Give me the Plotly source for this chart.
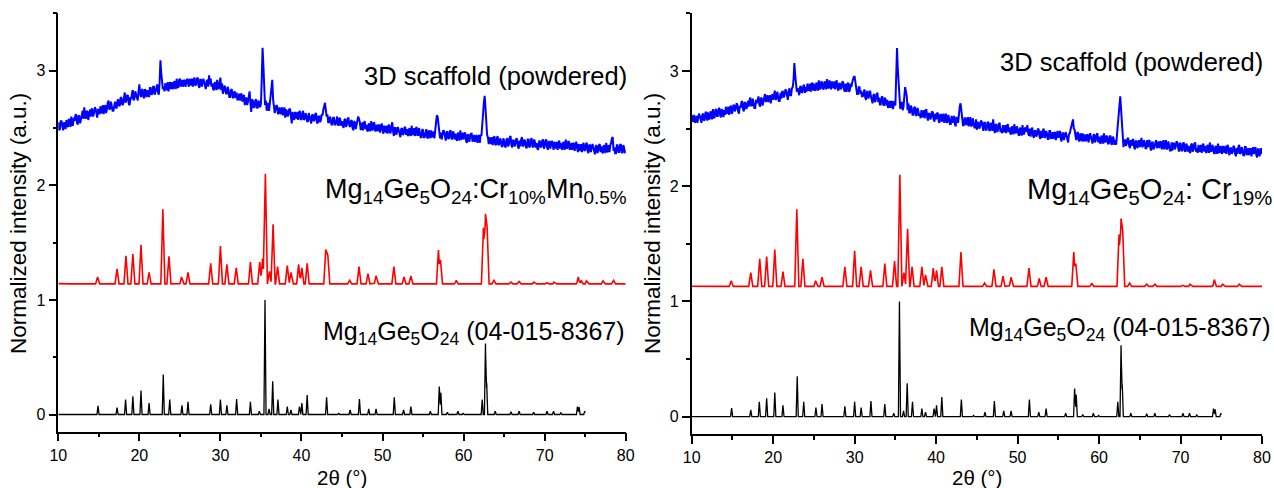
import numpy as np
import plotly.graph_objects as go

# ---------------------------------------------------------------------------
# Data
# ---------------------------------------------------------------------------
# 2-theta sampling of the powdered scaffold scans (0.1 deg steps, 10..80)
scan_2theta = np.round(np.arange(10.0, 80.001, 0.1), 1)

# powdered 3D scaffold, left panel (one row per degree: x.0 .. x.9)
scaffold_a = [
    2.55, 2.48, 2.49, 2.56, 2.56, 2.50, 2.48, 2.55, 2.53, 2.49,
    2.57, 2.52, 2.51, 2.58, 2.56, 2.51, 2.60, 2.53, 2.52, 2.59,
    2.56, 2.61, 2.62, 2.55, 2.53, 2.61, 2.60, 2.54, 2.57, 2.62,
    2.65, 2.58, 2.68, 2.62, 2.58, 2.65, 2.64, 2.57, 2.61, 2.66,
    2.60, 2.67, 2.66, 2.60, 2.63, 2.68, 2.67, 2.61, 2.59, 2.66,
    2.66, 2.62, 2.69, 2.64, 2.63, 2.70, 2.62, 2.68, 2.70, 2.63,
    2.66, 2.72, 2.74, 2.66, 2.67, 2.73, 2.70, 2.65, 2.65, 2.72,
    2.73, 2.68, 2.67, 2.74, 2.75, 2.69, 2.70, 2.77, 2.76, 2.70,
    2.71, 2.76, 2.81, 2.72, 2.74, 2.79, 2.78, 2.71, 2.70, 2.77,
    2.75, 2.81, 2.83, 2.74, 2.76, 2.82, 2.79, 2.75, 2.74, 2.82,
    2.88, 2.80, 2.77, 2.83, 2.84, 2.77, 2.76, 2.84, 2.81, 2.77,
    2.83, 2.79, 2.77, 2.85, 2.85, 2.79, 2.80, 2.86, 2.86, 2.79,
    2.82, 2.87, 2.88, 2.81, 2.79, 2.90, 3.09, 2.98, 2.92, 2.84,
    2.86, 2.82, 2.89, 2.85, 2.83, 2.90, 2.82, 2.88, 2.90, 2.84,
    2.90, 2.85, 2.84, 2.91, 2.89, 2.84, 2.93, 2.86, 2.85, 2.92,
    2.93, 2.86, 2.88, 2.92, 2.86, 2.91, 2.92, 2.86, 2.89, 2.93,
    2.90, 2.86, 2.93, 2.88, 2.87, 2.93, 2.86, 2.92, 2.94, 2.87,
    2.88, 2.93, 2.94, 2.87, 2.85, 2.92, 2.92, 2.86, 2.89, 2.93,
    2.90, 2.85, 2.84, 2.91, 2.92, 2.86, 2.96, 2.88, 2.93, 2.86,
    2.89, 2.84, 2.83, 2.90, 2.88, 2.83, 2.92, 2.85, 2.84, 2.90,
    2.94, 2.83, 2.89, 2.80, 2.82, 2.87, 2.85, 2.80, 2.80, 2.86,
    2.83, 2.77, 2.77, 2.83, 2.84, 2.77, 2.76, 2.82, 2.81, 2.76,
    2.81, 2.74, 2.76, 2.80, 2.74, 2.79, 2.80, 2.73, 2.77, 2.79,
    2.70, 2.76, 2.76, 2.70, 2.73, 2.77, 2.82, 2.72, 2.64, 2.75,
    2.74, 2.68, 2.68, 2.74, 2.75, 2.68, 2.67, 2.74, 2.72, 2.68,
    2.71, 2.93, 3.20, 3.05, 2.90, 2.70, 2.74, 2.66, 2.66, 2.72,
    2.65, 2.72, 2.80, 2.88, 2.92, 2.75, 2.69, 2.63, 2.66, 2.70,
    2.69, 2.62, 2.64, 2.68, 2.62, 2.67, 2.68, 2.61, 2.65, 2.68,
    2.59, 2.66, 2.65, 2.60, 2.62, 2.67, 2.66, 2.60, 2.54, 2.64,
    2.61, 2.57, 2.64, 2.59, 2.58, 2.64, 2.57, 2.63, 2.65, 2.58,
    2.57, 2.63, 2.65, 2.57, 2.58, 2.63, 2.61, 2.56, 2.56, 2.63,
    2.60, 2.55, 2.54, 2.61, 2.62, 2.56, 2.57, 2.62, 2.63, 2.55,
    2.54, 2.60, 2.60, 2.55, 2.57, 2.62, 2.61, 2.66, 2.70, 2.72,
    2.66, 2.60, 2.62, 2.55, 2.55, 2.60, 2.58, 2.53, 2.53, 2.59,
    2.59, 2.53, 2.53, 2.59, 2.60, 2.53, 2.52, 2.59, 2.57, 2.52,
    2.56, 2.52, 2.50, 2.57, 2.58, 2.51, 2.53, 2.58, 2.59, 2.52,
    2.51, 2.56, 2.57, 2.50, 2.48, 2.56, 2.55, 2.49, 2.52, 2.56,
    2.60, 2.58, 2.55, 2.49, 2.49, 2.55, 2.48, 2.54, 2.56, 2.49,
    2.53, 2.48, 2.47, 2.54, 2.52, 2.47, 2.56, 2.49, 2.48, 2.55,
    2.54, 2.47, 2.49, 2.53, 2.47, 2.52, 2.53, 2.46, 2.50, 2.54,
    2.49, 2.45, 2.52, 2.47, 2.46, 2.52, 2.45, 2.51, 2.53, 2.46,
    2.46, 2.52, 2.55, 2.47, 2.43, 2.50, 2.50, 2.44, 2.47, 2.51,
    2.48, 2.43, 2.42, 2.49, 2.50, 2.44, 2.45, 2.50, 2.51, 2.44,
    2.49, 2.44, 2.43, 2.50, 2.48, 2.43, 2.52, 2.45, 2.44, 2.50,
    2.43, 2.49, 2.51, 2.44, 2.44, 2.50, 2.47, 2.42, 2.42, 2.49,
    2.48, 2.42, 2.42, 2.48, 2.49, 2.42, 2.41, 2.48, 2.46, 2.41,
    2.48, 2.42, 2.43, 2.47, 2.41, 2.48, 2.55, 2.61, 2.60, 2.50,
    2.47, 2.41, 2.46, 2.40, 2.43, 2.48, 2.47, 2.41, 2.39, 2.46,
    2.47, 2.41, 2.41, 2.47, 2.48, 2.41, 2.40, 2.47, 2.45, 2.40,
    2.45, 2.40, 2.39, 2.46, 2.44, 2.39, 2.48, 2.41, 2.40, 2.46,
    2.40, 2.45, 2.46, 2.39, 2.37, 2.44, 2.44, 2.38, 2.41, 2.45,
    2.45, 2.38, 2.40, 2.44, 2.38, 2.43, 2.44, 2.37, 2.41, 2.44,
    2.37, 2.44, 2.43, 2.50, 2.62, 2.72, 2.78, 2.68, 2.55, 2.44,
    2.42, 2.36, 2.42, 2.37, 2.36, 2.42, 2.35, 2.41, 2.43, 2.36,
    2.35, 2.41, 2.43, 2.35, 2.36, 2.41, 2.39, 2.34, 2.34, 2.41,
    2.39, 2.34, 2.33, 2.40, 2.41, 2.34, 2.36, 2.42, 2.43, 2.35,
    2.33, 2.39, 2.39, 2.34, 2.36, 2.41, 2.40, 2.34, 2.32, 2.39,
    2.34, 2.40, 2.42, 2.34, 2.35, 2.40, 2.38, 2.33, 2.33, 2.40,
    2.40, 2.33, 2.34, 2.40, 2.41, 2.34, 2.33, 2.40, 2.38, 2.33,
    2.37, 2.32, 2.31, 2.38, 2.39, 2.33, 2.34, 2.39, 2.40, 2.32,
    2.34, 2.39, 2.40, 2.33, 2.31, 2.38, 2.38, 2.32, 2.35, 2.39,
    2.35, 2.31, 2.38, 2.33, 2.32, 2.38, 2.31, 2.37, 2.39, 2.32,
    2.37, 2.32, 2.31, 2.38, 2.36, 2.31, 2.40, 2.33, 2.32, 2.38,
    2.38, 2.31, 2.33, 2.37, 2.31, 2.36, 2.37, 2.30, 2.34, 2.38,
    2.33, 2.29, 2.36, 2.31, 2.30, 2.36, 2.29, 2.35, 2.37, 2.30,
    2.31, 2.36, 2.37, 2.30, 2.28, 2.35, 2.35, 2.29, 2.32, 2.36,
    2.33, 2.28, 2.27, 2.34, 2.35, 2.28, 2.30, 2.35, 2.36, 2.29,
    2.34, 2.29, 2.28, 2.35, 2.33, 2.28, 2.37, 2.30, 2.29, 2.35,
    2.29, 2.35, 2.37, 2.41, 2.42, 2.30, 2.33, 2.28, 2.28, 2.35,
    2.35, 2.29, 2.29, 2.35, 2.36, 2.29, 2.28, 2.35, 2.33, 2.28,
    2.31,
]

# powdered 3D scaffold, right panel
scaffold_b = [
    2.62, 2.56, 2.57, 2.62, 2.55, 2.60, 2.61, 2.55, 2.58, 2.63,
    2.61, 2.57, 2.55, 2.62, 2.63, 2.57, 2.58, 2.64, 2.64, 2.57,
    2.64, 2.59, 2.58, 2.65, 2.63, 2.58, 2.67, 2.60, 2.59, 2.66,
    2.67, 2.61, 2.61, 2.67, 2.68, 2.61, 2.60, 2.67, 2.65, 2.60,
    2.66, 2.62, 2.69, 2.64, 2.63, 2.69, 2.62, 2.68, 2.70, 2.63,
    2.64, 2.70, 2.70, 2.65, 2.67, 2.72, 2.71, 2.65, 2.63, 2.70,
    2.68, 2.73, 2.74, 2.67, 2.65, 2.73, 2.72, 2.67, 2.69, 2.74,
    2.69, 2.75, 2.77, 2.70, 2.70, 2.76, 2.73, 2.68, 2.68, 2.75,
    2.72, 2.77, 2.78, 2.71, 2.69, 2.77, 2.76, 2.70, 2.73, 2.78,
    2.80, 2.73, 2.75, 2.79, 2.73, 2.78, 2.79, 2.72, 2.76, 2.80,
    2.75, 2.81, 2.83, 2.75, 2.76, 2.82, 2.79, 2.74, 2.74, 2.81,
    2.76, 2.82, 2.82, 2.77, 2.79, 2.84, 2.83, 2.77, 2.75, 2.82,
    2.85, 2.79, 2.79, 2.85, 2.86, 2.92, 3.07, 2.97, 2.90, 2.82,
    2.85, 2.81, 2.79, 2.86, 2.87, 2.81, 2.82, 2.87, 2.88, 2.81,
    2.86, 2.82, 2.89, 2.84, 2.83, 2.89, 2.82, 2.88, 2.90, 2.83,
    2.89, 2.84, 2.83, 2.90, 2.88, 2.83, 2.92, 2.85, 2.84, 2.91,
    2.90, 2.85, 2.84, 2.91, 2.89, 2.84, 2.93, 2.86, 2.85, 2.92,
    2.88, 2.84, 2.91, 2.86, 2.85, 2.91, 2.84, 2.90, 2.92, 2.85,
    2.83, 2.89, 2.89, 2.84, 2.86, 2.91, 2.90, 2.84, 2.82, 2.89,
    2.82, 2.88, 2.90, 2.82, 2.83, 2.89, 2.86, 2.90, 2.93, 2.95,
    2.95, 2.88, 2.82, 2.80, 2.80, 2.86, 2.86, 2.80, 2.83, 2.78,
    2.78, 2.83, 2.84, 2.77, 2.75, 2.82, 2.82, 2.76, 2.79, 2.83,
    2.78, 2.73, 2.72, 2.79, 2.80, 2.73, 2.75, 2.80, 2.81, 2.73,
    2.77, 2.71, 2.71, 2.77, 2.78, 2.71, 2.70, 2.77, 2.75, 2.70,
    2.75, 2.68, 2.70, 2.74, 2.68, 2.73, 2.74, 2.67, 2.71, 2.74,
    2.70, 2.95, 3.20, 3.02, 2.88, 2.72, 2.67, 2.72, 2.73, 2.66,
    2.69, 2.78, 2.86, 2.82, 2.78, 2.66, 2.72, 2.64, 2.64, 2.70,
    2.68, 2.62, 2.62, 2.68, 2.69, 2.62, 2.61, 2.68, 2.66, 2.61,
    2.63, 2.59, 2.66, 2.61, 2.60, 2.66, 2.59, 2.65, 2.67, 2.60,
    2.57, 2.63, 2.63, 2.58, 2.60, 2.65, 2.64, 2.58, 2.56, 2.63,
    2.58, 2.63, 2.64, 2.57, 2.55, 2.62, 2.62, 2.56, 2.59, 2.63,
    2.55, 2.61, 2.63, 2.55, 2.56, 2.62, 2.59, 2.54, 2.54, 2.61,
    2.55, 2.60, 2.61, 2.54, 2.52, 2.60, 2.59, 2.55, 2.64, 2.69,
    2.72, 2.64, 2.58, 2.53, 2.53, 2.59, 2.59, 2.53, 2.56, 2.60,
    2.52, 2.58, 2.60, 2.52, 2.53, 2.59, 2.56, 2.51, 2.51, 2.58,
    2.49, 2.55, 2.55, 2.50, 2.52, 2.57, 2.56, 2.50, 2.48, 2.55,
    2.55, 2.49, 2.49, 2.55, 2.56, 2.49, 2.48, 2.55, 2.53, 2.48,
    2.58, 2.52, 2.46, 2.53, 2.54, 2.47, 2.49, 2.54, 2.55, 2.47,
    2.50, 2.46, 2.53, 2.48, 2.47, 2.53, 2.46, 2.52, 2.54, 2.47,
    2.51, 2.46, 2.45, 2.52, 2.50, 2.45, 2.54, 2.47, 2.46, 2.52,
    2.50, 2.45, 2.44, 2.51, 2.49, 2.44, 2.53, 2.46, 2.45, 2.51,
    2.47, 2.50, 2.53, 2.46, 2.44, 2.50, 2.43, 2.49, 2.51, 2.44,
    2.42, 2.48, 2.48, 2.43, 2.45, 2.50, 2.49, 2.43, 2.41, 2.48,
    2.42, 2.48, 2.50, 2.42, 2.43, 2.48, 2.46, 2.41, 2.41, 2.48,
    2.48, 2.41, 2.43, 2.47, 2.41, 2.46, 2.47, 2.40, 2.44, 2.48,
    2.42, 2.47, 2.48, 2.41, 2.39, 2.46, 2.46, 2.40, 2.43, 2.47,
    2.44, 2.40, 2.38, 2.45, 2.46, 2.49, 2.52, 2.56, 2.58, 2.50,
    2.49, 2.44, 2.40, 2.46, 2.47, 2.40, 2.39, 2.46, 2.44, 2.39,
    2.46, 2.39, 2.41, 2.45, 2.39, 2.44, 2.45, 2.38, 2.42, 2.46,
    2.43, 2.38, 2.37, 2.44, 2.45, 2.38, 2.40, 2.45, 2.46, 2.38,
    2.43, 2.38, 2.37, 2.44, 2.42, 2.37, 2.46, 2.39, 2.38, 2.44,
    2.43, 2.37, 2.37, 2.43, 2.44, 2.37, 2.36, 2.43, 2.41, 2.36,
    2.40, 2.36, 2.43, 2.50, 2.60, 2.70, 2.78, 2.67, 2.56, 2.45,
    2.34, 2.40, 2.40, 2.35, 2.37, 2.42, 2.41, 2.35, 2.33, 2.40,
    2.35, 2.40, 2.41, 2.34, 2.32, 2.39, 2.39, 2.33, 2.36, 2.40,
    2.34, 2.40, 2.42, 2.34, 2.35, 2.40, 2.38, 2.33, 2.33, 2.40,
    2.34, 2.39, 2.40, 2.33, 2.31, 2.38, 2.38, 2.32, 2.35, 2.39,
    2.40, 2.33, 2.35, 2.39, 2.33, 2.38, 2.39, 2.32, 2.36, 2.40,
    2.32, 2.38, 2.40, 2.32, 2.33, 2.39, 2.36, 2.31, 2.31, 2.38,
    2.31, 2.37, 2.37, 2.32, 2.34, 2.39, 2.38, 2.32, 2.30, 2.37,
    2.37, 2.31, 2.31, 2.37, 2.38, 2.31, 2.30, 2.37, 2.35, 2.30,
    2.35, 2.30, 2.29, 2.36, 2.37, 2.30, 2.32, 2.37, 2.38, 2.30,
    2.33, 2.29, 2.36, 2.31, 2.30, 2.36, 2.29, 2.35, 2.37, 2.30,
    2.35, 2.30, 2.29, 2.36, 2.34, 2.29, 2.38, 2.31, 2.30, 2.36,
    2.34, 2.29, 2.28, 2.35, 2.33, 2.28, 2.37, 2.30, 2.29, 2.35,
    2.32, 2.28, 2.35, 2.30, 2.29, 2.35, 2.28, 2.34, 2.36, 2.29,
    2.27, 2.33, 2.33, 2.28, 2.30, 2.35, 2.34, 2.28, 2.26, 2.33,
    2.28, 2.34, 2.36, 2.28, 2.29, 2.34, 2.32, 2.27, 2.27, 2.34,
    2.34, 2.27, 2.29, 2.33, 2.27, 2.32, 2.33, 2.26, 2.30, 2.34,
    2.28, 2.33, 2.34, 2.27, 2.25, 2.32, 2.32, 2.26, 2.29, 2.33,
    2.28,
]

# reference card 04-015-8367: line positions (deg) and relative intensities
ref_pos = [12.15, 14.9, 17.25, 18.3, 19.2, 20.2, 21.2, 22.95, 23.75, 25.25,
           26.0, 28.8, 30.0, 30.8, 32.0, 33.7, 34.8, 35.5, 36.0, 36.45,
           37.1, 38.25, 38.7, 39.75, 40.05, 40.7, 43.1, 44.6, 46.0, 47.15,
           48.3, 49.2, 51.45, 52.6, 53.5, 55.9, 57.0, 57.2, 58.0, 59.3,
           59.95, 62.3, 62.7, 62.85, 63.9, 65.85, 66.85, 68.65, 70.3, 71.1,
           72.0, 74.05, 74.25, 74.95]
ref_int = [0.005, 0.075, 0.06, 0.13, 0.16, 0.21, 0.10, 0.35, 0.13, 0.08,
           0.11, 0.09, 0.13, 0.08, 0.135, 0.11, 0.03, 1.00, 0.05, 0.29,
           0.13, 0.07, 0.04, 0.07, 0.10, 0.17, 0.15, 0.01, 0.04, 0.135,
           0.05, 0.05, 0.15, 0.04, 0.07, 0.03, 0.245, 0.19, 0.02, 0.03,
           0.01, 0.13, 0.62, 0.28, 0.03, 0.025, 0.03, 0.02, 0.03, 0.03,
           0.015, 0.07, 0.065, 0.03]
ref_span = [10.0, 75.0]

# baseline of the doped samples (0.5 deg steps, 10..80)
base_2theta = np.round(np.arange(10.0, 80.001, 0.5), 1)
crmn_base = [
    1.142, 1.136, 1.140, 1.133, 1.139, 1.135, 1.141, 1.134, 1.138, 1.132,
    1.137, 1.131, 1.138, 1.130, 1.136, 1.129, 1.135, 1.131, 1.134, 1.128,
    1.133, 1.127, 1.134, 1.126, 1.132, 1.125, 1.131, 1.124, 1.130, 1.123,
    1.129, 1.122, 1.128, 1.121, 1.127, 1.120, 1.126, 1.119, 1.125, 1.118,
    1.124, 1.118, 1.125, 1.119, 1.126, 1.120, 1.127, 1.121, 1.128, 1.122,
    1.135, 1.140, 1.138, 1.130, 1.129, 1.123, 1.130, 1.124, 1.131, 1.125,
    1.131, 1.126, 1.132, 1.125, 1.133, 1.126, 1.132, 1.127, 1.131, 1.126,
    1.132, 1.127, 1.131, 1.125, 1.132, 1.126, 1.131, 1.125, 1.130, 1.124,
    1.131, 1.125, 1.130, 1.126, 1.131, 1.124, 1.130, 1.125, 1.129, 1.123,
    1.130, 1.124, 1.129, 1.125, 1.131, 1.124, 1.129, 1.123, 1.128, 1.124,
    1.129, 1.123, 1.128, 1.122, 1.129, 1.132, 1.130, 1.124, 1.128, 1.122,
    1.127, 1.121, 1.126, 1.122, 1.127, 1.120, 1.125, 1.121, 1.126, 1.119,
    1.125, 1.119, 1.124, 1.120, 1.125, 1.118, 1.123, 1.119, 1.124, 1.118,
    1.123, 1.117, 1.122, 1.118, 1.121, 1.116, 1.120, 1.115, 1.119, 1.112,
    1.113,
]
cr_base = [
    1.132, 1.126, 1.131, 1.124, 1.130, 1.125, 1.131, 1.124, 1.129, 1.123,
    1.128, 1.122, 1.129, 1.121, 1.127, 1.120, 1.126, 1.122, 1.125, 1.119,
    1.124, 1.118, 1.125, 1.117, 1.123, 1.116, 1.122, 1.115, 1.121, 1.114,
    1.120, 1.113, 1.119, 1.112, 1.118, 1.111, 1.117, 1.110, 1.116, 1.109,
    1.115, 1.109, 1.116, 1.110, 1.117, 1.111, 1.118, 1.112, 1.119, 1.113,
    1.126, 1.131, 1.129, 1.121, 1.120, 1.114, 1.121, 1.115, 1.122, 1.116,
    1.122, 1.117, 1.123, 1.116, 1.124, 1.117, 1.123, 1.118, 1.122, 1.117,
    1.123, 1.118, 1.122, 1.116, 1.123, 1.117, 1.122, 1.116, 1.121, 1.115,
    1.122, 1.116, 1.121, 1.117, 1.122, 1.115, 1.121, 1.116, 1.120, 1.114,
    1.121, 1.115, 1.120, 1.116, 1.122, 1.115, 1.120, 1.114, 1.119, 1.115,
    1.120, 1.114, 1.119, 1.113, 1.120, 1.123, 1.121, 1.115, 1.119, 1.113,
    1.118, 1.112, 1.117, 1.113, 1.118, 1.111, 1.116, 1.112, 1.117, 1.110,
    1.116, 1.110, 1.115, 1.111, 1.116, 1.109, 1.114, 1.110, 1.115, 1.109,
    1.114, 1.108, 1.113, 1.109, 1.112, 1.107, 1.111, 1.106, 1.110, 1.103,
    1.104,
]

# Mg14Ge5O24:Cr10%Mn0.5% reflections: position (deg), peak top (a.u.)
crmn_pos = [14.85, 17.25, 18.35, 19.2, 20.2, 21.2, 22.9, 23.65, 25.2, 26.0,
            28.8, 30.0, 30.8, 31.95, 33.7, 34.85, 35.2, 35.55, 36.05, 36.5,
            37.05, 38.25, 38.7, 39.65, 40.05, 40.7, 43.0, 43.25, 45.95, 47.1,
            48.2, 49.2, 51.4, 52.65, 53.5, 56.9, 57.15, 59.1, 62.45, 62.7,
            62.9, 63.75, 65.85, 66.85, 68.65, 70.3, 71.15, 74.15, 74.5, 75.15,
            77.2, 78.5]
crmn_top = [1.20, 1.27, 1.385, 1.40, 1.48, 1.24, 1.79, 1.38, 1.20, 1.24,
            1.32, 1.47, 1.31, 1.28, 1.33, 1.33, 1.36, 2.10, 1.25, 1.66,
            1.29, 1.30, 1.24, 1.31, 1.28, 1.32, 1.44, 1.39, 1.17, 1.29,
            1.23, 1.21, 1.29, 1.20, 1.21, 1.435, 1.35, 1.17, 1.63, 1.75,
            1.64, 1.17, 1.155, 1.16, 1.155, 1.15, 1.155, 1.20, 1.17, 1.165,
            1.165, 1.17]

# Mg14Ge5O24:Cr19% reflections
cr_pos = [14.85, 17.25, 18.35, 19.2, 20.2, 21.2, 22.9, 23.65, 25.2, 26.0,
          28.8, 30.0, 30.8, 31.95, 33.7, 34.9, 35.55, 36.05, 36.5, 37.05,
          38.25, 38.7, 39.65, 40.05, 40.7, 43.05, 45.95, 47.1, 48.2, 49.2,
          51.4, 52.65, 53.5, 56.9, 57.15, 59.1, 62.45, 62.7, 62.9, 63.75,
          65.85, 66.85, 70.3, 71.15, 74.15, 75.15, 77.2]
cr_top = [1.18, 1.25, 1.37, 1.39, 1.45, 1.26, 1.80, 1.37, 1.18, 1.21,
          1.30, 1.44, 1.30, 1.27, 1.33, 1.35, 2.10, 1.25, 1.63, 1.30,
          1.30, 1.23, 1.29, 1.27, 1.30, 1.43, 1.16, 1.28, 1.22, 1.21,
          1.29, 1.20, 1.21, 1.43, 1.33, 1.16, 1.58, 1.72, 1.62, 1.16,
          1.15, 1.15, 1.14, 1.15, 1.19, 1.15, 1.15]

for scan in (scaffold_a, scaffold_b):
    if len(scan) != len(scan_2theta):
        raise ValueError("scan length %d != %d" % (len(scan), len(scan_2theta)))


# ---------------------------------------------------------------------------
# Helpers
# ---------------------------------------------------------------------------
def stick_pattern(base_x, base_y, pos, top, half):
    """Polyline of narrow triangular reflections standing on a baseline."""
    base_x = np.asarray(base_x, float)
    base_y = np.asarray(base_y, float)
    pos = np.asarray(pos, float)
    top = np.asarray(top, float)
    xs = np.concatenate([base_x, pos - half, pos, pos + half])
    xs = np.unique(xs[(xs >= base_x[0]) & (xs <= base_x[-1])])
    ys = np.interp(xs, base_x, base_y)
    for p, t in zip(pos, top):
        b = np.interp(p, base_x, base_y)
        ys = np.maximum(ys, b + (t - b) * np.clip(1 - np.abs(xs - p) / half, 0, None))
    return xs, ys


FONT = "Liberation Sans"
W, H = 1274, 488

fig = go.Figure()

panels = [
    dict(xa="x", ya="y", blue=scaffold_a, red_base=crmn_base,
         red_pos=crmn_pos, red_top=crmn_top),
    dict(xa="x2", ya="y2", blue=scaffold_b, red_base=cr_base,
         red_pos=cr_pos, red_top=cr_top),
]

for p in panels:
    rx, ry = stick_pattern(ref_span, [0.0, 0.0], ref_pos, ref_int, 0.13)
    fig.add_trace(go.Scatter(x=rx, y=ry, mode="lines", xaxis=p["xa"], yaxis=p["ya"],
                             line=dict(color="#000000", width=1.3), showlegend=False,
                             hoverinfo="skip"))
    sx, sy = stick_pattern(base_2theta, p["red_base"], p["red_pos"], p["red_top"], 0.25)
    fig.add_trace(go.Scatter(x=sx, y=sy, mode="lines", xaxis=p["xa"], yaxis=p["ya"],
                             line=dict(color="#FF0000", width=1.6), showlegend=False,
                             hoverinfo="skip"))
    fig.add_trace(go.Scatter(x=scan_2theta, y=p["blue"], mode="lines",
                             xaxis=p["xa"], yaxis=p["ya"],
                             line=dict(color="#0000FF", width=2.0), showlegend=False,
                             hoverinfo="skip"))

axis_common = dict(
    showline=True, linecolor="black", linewidth=1.5, mirror=False,
    showgrid=False, zeroline=False, automargin=False,
    ticks="outside", ticklen=8, tickwidth=1.5, tickcolor="black",
    tickfont=dict(family=FONT, size=16, color="black"),
)
xaxis_common = dict(axis_common, range=[10, 80], tickvals=[10, 20, 30, 40, 50, 60, 70, 80],
                    minor=dict(dtick=5, tick0=10, ticklen=4, tickwidth=1.5,
                               tickcolor="black", ticks="outside"))
yaxis_common = dict(axis_common, range=[-0.15, 3.5], tickvals=[0, 1, 2, 3],
                    minor=dict(dtick=0.5, tick0=0, ticklen=4, tickwidth=1.5,
                               tickcolor="black", ticks="outside"))

fig.update_layout(
    width=W, height=H,
    margin=dict(l=0, r=0, t=0, b=0),
    paper_bgcolor="white", plot_bgcolor="white",
    xaxis=dict(xaxis_common, domain=[58.3 / W, 625.7 / W], anchor="y"),
    yaxis=dict(yaxis_common, domain=[(H - 431.7) / H, (H - 13.4) / H], anchor="x"),
    xaxis2=dict(xaxis_common, domain=[691.7 / W, 1262.0 / W], anchor="y2"),
    yaxis2=dict(yaxis_common, domain=[(H - 434.0) / H, (H - 13.4) / H], anchor="x2"),
)


def label(text, x_px, y_px, size, xanchor="right", angle=0):
    fig.add_annotation(text=text, xref="paper", yref="paper",
                       x=x_px / W, y=1 - y_px / H, xanchor=xanchor, yanchor="middle",
                       showarrow=False, textangle=angle,
                       font=dict(family=FONT, size=size, color="black"))


# left panel labels
label("3D scaffold (powdered)", 629, 76, 25.5)
label("Mg<sub>14</sub>Ge<sub>5</sub>O<sub>24</sub>:Cr<sub>10%</sub>Mn<sub>0.5%</sub>",
      629, 191, 27)
label("Mg<sub>14</sub>Ge<sub>5</sub>O<sub>24</sub> (04-015-8367)", 627, 333, 25)
label("Normalized intensity (a.u.)", 18, 224, 22.5, xanchor="center", angle=-90)
label("2θ (°)", 342, 477, 20.5, xanchor="center")

# right panel labels
label("3D scaffold (powdered)", 1265, 62, 25.5)
label("Mg<sub>14</sub>Ge<sub>5</sub>O<sub>24</sub>: Cr<sub>19%</sub>", 1274, 191, 29)
label("Mg<sub>14</sub>Ge<sub>5</sub>O<sub>24</sub> (04-015-8367)", 1273, 329, 25)
label("Normalized intensity (a.u.)", 652, 224, 22.5, xanchor="center", angle=-90)
label("2θ (°)", 977, 477, 20.5, xanchor="center")

fig.write_html("out.html")
